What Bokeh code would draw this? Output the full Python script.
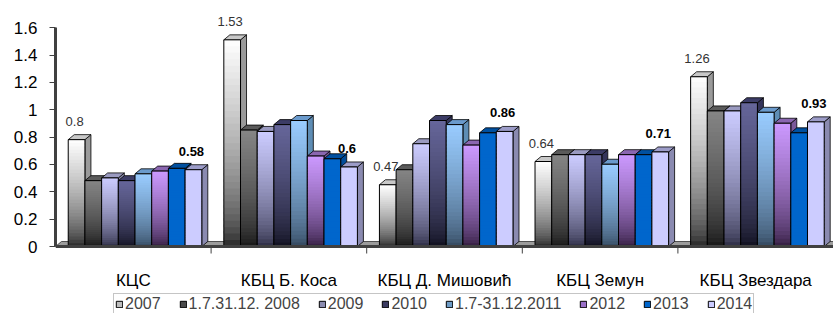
import math
from bokeh.plotting import figure
from bokeh.models import (ColumnDataSource, FixedTicker, CustomJSTickFormatter,
                          Legend, LegendItem, Range1d)
from bokeh.core.properties import value
from bokeh.embed import file_html
from bokeh.resources import INLINE

# ---------------- data ----------------
categories = ["КЦС", "КБЦ Б. Коса", "КБЦ Д. Мишовић", "КБЦ Земун", "КБЦ Звездара"]
series_names = ["2007", "1.7.31.12. 2008", "2009", "2010", "1.7-31.12.2011",
                "2012", "2013", "2014"]
v2007 = [0.80, 1.53, 0.47, 0.64, 1.26]
v2008 = [0.50, 0.87, 0.58, 0.69, 1.01]
v2009 = [0.52, 0.86, 0.77, 0.69, 1.01]
v2010 = [0.50, 0.91, 0.94, 0.69, 1.07]
v2011 = [0.55, 0.94, 0.91, 0.62, 1.00]
v2012 = [0.57, 0.68, 0.76, 0.69, 0.92]
v2013 = [0.59, 0.66, 0.85, 0.69, 0.85]
v2014 = [0.58, 0.60, 0.86, 0.71, 0.93]
series_values = [v2007, v2008, v2009, v2010, v2011, v2012, v2013, v2014]
y_ticks = [0, 0.2, 0.4, 0.6, 0.8, 1.0, 1.2, 1.4, 1.6]
labelled = {"2007": "normal", "2014": "bold"}

# ---------------- styles ----------------
# (top colour, bottom colour, side colour, top-face colour, legend colour)
styles = [
    ("#ffffff", "#1c1c1c", "#9a9a9a", "#c8c8c8", "#bdbdbd"),
    ("#858585", "#101010", "#505050", "#5a5a5a", "#4a4a4a"),
    ("#ccccff", "#24243a", "#8686a8", "#9a9ac0", "#8c8cb0"),
    ("#66669a", "#0c0c18", "#34345a", "#3c3c66", "#3a3a60"),
    ("#99ccff", "#2f4256", "#5e8db5", "#6a9acc", "#6e9cc6"),
    ("#cc99ff", "#2a1634", "#7a589a", "#8a66b0", "#9a70c8"),
    ("#0066cc", "#0066cc", "#004c99", "#0050a0", "#0066cc"),
    ("#ccccff", "#ccccff", "#8a8ab0", "#9c9cc8", "#ccccff"),
]
FONT = "Liberation Sans"


def hex_rgb(h):
    h = h.lstrip("#")
    return tuple(int(h[k:k + 2], 16) for k in (0, 2, 4))


def mix(c_bottom, c_top, s):
    a, b = hex_rgb(c_bottom), hex_rgb(c_top)
    return "#%02x%02x%02x" % tuple(int(round(a[k] + (b[k] - a[k]) * s)) for k in range(3))


step = 0.1073          # bar slot width (x units)
shift = 0.011          # cluster offset inside category
dx, dy = 0.0386, 0.0366  # 3-D depth offsets
N = 32                 # gradient slices

p = figure(width=833, height=313, x_range=Range1d(0, 5), y_range=Range1d(-0.4901, 1.7264),
           output_backend="svg", toolbar_location=None,
           min_border_left=55, min_border_right=0, min_border_top=10, min_border_bottom=0)
p.outline_line_color = None
p.grid.visible = False
p.background_fill_color = "white"
p.xaxis.visible = False

# floor
p.patch([0, 5, 5 + dx, dx], [0, 0, dy, dy], fill_color="#9c9c9c", line_color="#303030",
        line_width=0.8)

legend_items = []
for j, (name, vals) in enumerate(zip(series_names, series_values)):
    ctop, cbot, cside, ctopface, cleg = styles[j]
    side_xs, side_ys, top_xs, top_ys = [], [], [], []
    sl = dict(left=[], right=[], bottom=[], top=[], color=[])
    fr = dict(left=[], right=[], top=[])
    lab = dict(x=[], y=[], text=[])
    for i, v in enumerate(vals):
        c = i + 0.5 + shift + (j - 3.5) * step
        x0, x1 = c - step / 2, c + step / 2
        t = v - dy / 2
        side_xs.append([x1, x1 + dx, x1 + dx, x1])
        side_ys.append([0, dy, t + dy, t])
        top_xs.append([x0, x1, x1 + dx, x0 + dx])
        top_ys.append([t, t, t + dy, t + dy])
        for k in range(N):
            s = (k + 0.5) / N
            sl["left"].append(x0)
            sl["right"].append(x1)
            sl["bottom"].append(t * k / N)
            sl["top"].append(min(t, t * (k + 1.4) / N))
            sl["color"].append(mix(cbot, ctop, min(1.0, s ** 0.6)))
        fr["left"].append(x0)
        fr["right"].append(x1)
        fr["top"].append(t)
        lab["x"].append(c)
        lab["y"].append(v)
        lab["text"].append(f"{v:g}")
    p.patches(side_xs, side_ys, fill_color=cside, line_color="black", line_width=0.8)
    p.patches(top_xs, top_ys, fill_color=ctopface, line_color="black", line_width=0.8)
    p.quad(left="left", right="right", bottom="bottom", top="top", fill_color="color",
           line_color=None, source=ColumnDataSource(sl))
    p.quad(left="left", right="right", bottom=0, top="top", fill_color=None,
           line_color="black", line_width=1, source=ColumnDataSource(fr))
    if name in labelled:
        bold = labelled[name] == "bold"
        p.text(x="x", y="y", text="text", source=ColumnDataSource(lab),
               text_font=value(FONT), text_font_size="13px",
               text_font_style="bold" if bold else "normal",
               text_color="black" if bold else "#333333",
               text_align="center", text_baseline="middle", x_offset=-2, y_offset=-16)
    nan = float("nan")
    dummy = p.quad(left=[nan], right=[nan], bottom=[nan], top=[nan], fill_color=cleg,
                   line_color="black", line_width=1)
    legend_items.append(LegendItem(label=name, renderers=[dummy]))

# x axis drawn at value 0 (floor edge), category boundaries and labels
ncat = len(categories)
p.segment(x0=[0], y0=[0], x1=[ncat], y1=[0], line_color="#404040", line_width=3)
p.ray(x=list(range(1, ncat)), y=[0] * (ncat - 1), length=7, length_units="screen",
      angle=-math.pi / 2, line_color="#404040", line_width=1)
p.text(x=[i + 0.5 for i in range(ncat)], y=[0] * ncat, text=categories,
       text_font=value(FONT), text_font_size="17px", text_color="black",
       text_align="center", text_baseline="middle", y_offset=34)

# y axis
ya = p.yaxis[0]
ya.ticker = FixedTicker(ticks=y_ticks)
ya.formatter = CustomJSTickFormatter(code="return String(Math.round(tick*10)/10)")
ya.bounds = (0, 1.6)
ya.axis_line_color = "#404040"
ya.axis_line_width = 3
ya.major_tick_line_color = "#404040"
ya.major_tick_out = 6
ya.major_tick_in = 0
ya.minor_tick_line_color = None
ya.major_label_standoff = 12
ya.major_label_text_font = FONT
ya.major_label_text_font_size = "17px"
ya.major_label_text_color = "black"

legend = Legend(items=legend_items, orientation="horizontal", location=(58, -2),
                label_text_font=FONT, label_text_font_size="16px",
                glyph_width=8, glyph_height=8, label_standoff=2, spacing=18,
                padding=1, margin=0, label_height=16,
                border_line_color="#8c8c8c", border_line_width=1,
                background_fill_color="white", background_fill_alpha=1.0)
p.add_layout(legend, "center")

open("out.html", "w").write(file_html(p, INLINE))
